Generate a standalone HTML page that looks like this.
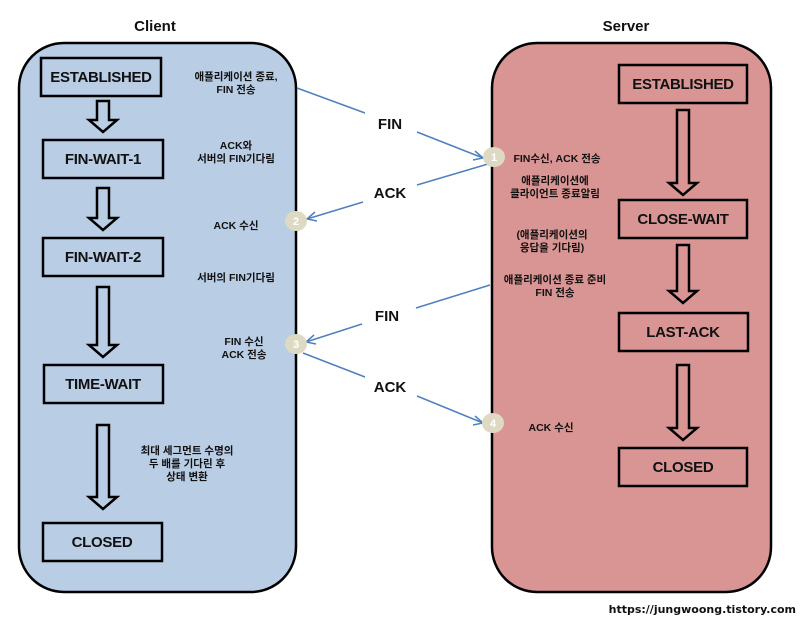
<!DOCTYPE html>
<html><head><meta charset="utf-8"><style>
html,body{margin:0;padding:0;background:#fff;}
svg{display:block;font-family:"Liberation Sans","Noto Sans CJK KR",sans-serif;}
.b{font-weight:bold;font-size:15px;text-anchor:middle;fill:#111;letter-spacing:-0.3px;}
.s{font-size:10.5px;text-anchor:middle;fill:#111;font-weight:bold;}
.l{font-weight:bold;font-size:15px;text-anchor:middle;fill:#111;}
.ln{stroke:#4f81bd;stroke-width:1.5;fill:none;}
.ar{fill:none;stroke:#000;stroke-width:2.5;}
.bx{stroke:#000;stroke-width:2.5;}
.n{fill:#fff;font-size:11px;font-weight:bold;text-anchor:middle;}
</style></head><body>
<svg width="802" height="618" viewBox="0 0 802 618">
<text x="155" y="31" class="l">Client</text>
<text x="626" y="31" class="l">Server</text>
<rect x="19" y="43" width="277" height="549" rx="45" fill="#b9cde5" stroke="#000" stroke-width="2.5"/>
<rect x="492" y="43" width="279" height="549" rx="45" fill="#d99594" stroke="#000" stroke-width="2.5"/>

<g fill="none" class="bx">
<rect x="41" y="58" width="120" height="38"/>
<rect x="43" y="140" width="120" height="38"/>
<rect x="43" y="238" width="120" height="38"/>
<rect x="44" y="365" width="119" height="38"/>
<rect x="43" y="523" width="119" height="38"/>
<rect x="619" y="65" width="128" height="38"/>
<rect x="619" y="200" width="128" height="38"/>
<rect x="619" y="313" width="129" height="38"/>
<rect x="619" y="448" width="128" height="38"/>
</g>
<text x="101" y="82" class="b">ESTABLISHED</text>
<text x="103" y="164" class="b">FIN-WAIT-1</text>
<text x="103" y="262" class="b">FIN-WAIT-2</text>
<text x="103" y="389" class="b">TIME-WAIT</text>
<text x="102" y="547" class="b">CLOSED</text>
<text x="683" y="89" class="b">ESTABLISHED</text>
<text x="683" y="224" class="b">CLOSE-WAIT</text>
<text x="683" y="337" class="b">LAST-ACK</text>
<text x="683" y="472" class="b">CLOSED</text>

<g class="ar">
<path d="M97,101H109V120H117L103,132L89,120H97Z"/>
<path d="M97,188H109V218H117L103,230L89,218H97Z"/>
<path d="M97,287H109V345H117L103,357L89,345H97Z"/>
<path d="M97,425H109V497H117L103,509L89,497H97Z"/>
<path d="M677,110H689V183H697L683,195L669,183H677Z"/>
<path d="M677,245H689V291H697L683,303L669,291H677Z"/>
<path d="M677,365H689V428H697L683,440L669,428H677Z"/>
</g>

<g class="ln">
<path d="M297,88L365,113"/><path d="M417,132L483,158"/><path d="M475,151L483,158L473,160"/>
<path d="M488,164L417,185"/><path d="M363,202L307,219"/><path d="M315,212L307,219L317,221"/>
<path d="M490,285L416,308"/><path d="M362,324L306,342"/><path d="M314,335L306,342L316,344"/>
<path d="M303,353L365,377"/><path d="M417,396L483,423"/><path d="M475,416L483,423L473,425"/>
</g>
<text x="390" y="129" class="l">FIN</text>
<text x="390" y="198" class="l">ACK</text>
<text x="387" y="321" class="l">FIN</text>
<text x="390" y="392" class="l">ACK</text>

<g fill="#ddd9c3">
<ellipse cx="494" cy="157" rx="11" ry="10"/>
<ellipse cx="296" cy="221" rx="11" ry="10"/>
<ellipse cx="296" cy="344" rx="11" ry="10"/>
<ellipse cx="493" cy="423" rx="11" ry="10"/>
</g>
<text x="494" y="161" class="n">1</text>
<text x="296" y="225" class="n">2</text>
<text x="296" y="348" class="n">3</text>
<text x="493" y="427" class="n">4</text>

<text x="236" y="80" class="s">애플리케이션 종료,</text>
<text x="236" y="93" class="s">FIN 전송</text>
<text x="236" y="149" class="s">ACK와</text>
<text x="236" y="162" class="s">서버의 FIN기다림</text>
<text x="236" y="229" class="s">ACK 수신</text>
<text x="236" y="281" class="s">서버의 FIN기다림</text>
<text x="244" y="345" class="s">FIN 수신</text>
<text x="244" y="358" class="s">ACK 전송</text>
<text x="187" y="454" class="s">최대 세그먼트 수명의</text>
<text x="187" y="467" class="s">두 배를 기다린 후</text>
<text x="187" y="480" class="s">상태 변환</text>

<text x="557" y="162" class="s">FIN수신, ACK 전송</text>
<text x="555" y="184" class="s">애플리케이션에</text>
<text x="555" y="197" class="s">클라이언트 종료알림</text>
<text x="552" y="238" class="s">(애플리케이션의</text>
<text x="552" y="251" class="s">응답을 기다림)</text>
<text x="555" y="283" class="s">애플리케이션 종료 준비</text>
<text x="555" y="296" class="s">FIN 전송</text>
<text x="551" y="431" class="s">ACK 수신</text>

<text x="796" y="613" style="font-size:11px;font-weight:bold;text-anchor:end;fill:#111;font-family:'DejaVu Sans',sans-serif">https://jungwoong.tistory.com</text>
</svg>
</body></html>
